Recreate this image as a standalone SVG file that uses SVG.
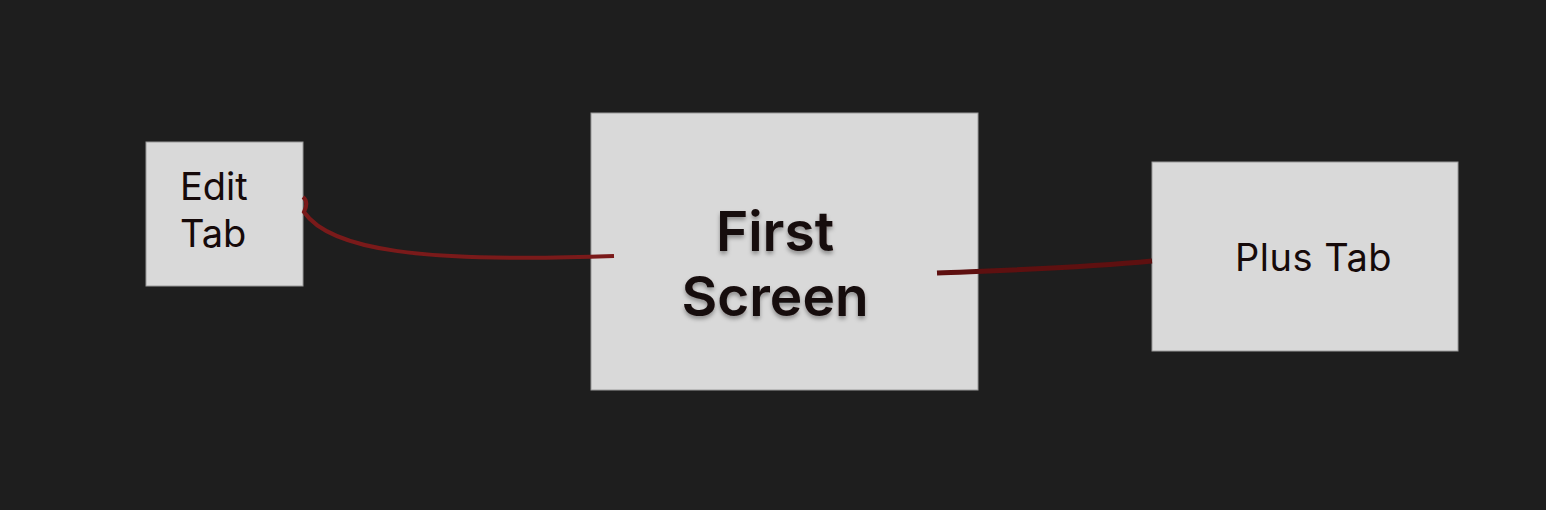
<svg xmlns="http://www.w3.org/2000/svg" width="1546" height="510" viewBox="0 0 1546 510">
<style>
.box{fill:#d9d9d9;stroke:#9a9a9a;stroke-width:1}
.lbl{font-family:Inter,"Liberation Sans",sans-serif;fill:#160a0a}
.conn{fill:none;stroke-linecap:butt}
</style>
<defs>
<filter id="sh" x="-20%" y="-20%" width="140%" height="140%">
<feDropShadow dx="0" dy="3" stdDeviation="2" flood-color="#000" flood-opacity="0.35"/>
</filter>
</defs>
<rect width="1546" height="510" fill="#1e1e1e"/>
<g id="edit-tab">
<rect class="box" x="146" y="142" width="157" height="144"/>
<text class="lbl" font-size="38" x="180" y="200">Edit</text>
<text class="lbl" font-size="38" x="180" y="247">Tab</text>
</g>
<g id="first-screen">
<rect class="box" x="591" y="113" width="387" height="277"/>
<g filter="url(#sh)">
<text class="lbl" font-size="55" font-weight="600" text-anchor="middle" x="775" y="251">First</text>
<text class="lbl" font-size="55" font-weight="600" text-anchor="middle" x="775" y="316">Screen</text>
</g>
</g>
<g id="plus-tab">
<rect class="box" x="1152" y="162" width="306" height="189"/>
<text class="lbl" font-size="38" letter-spacing="0.5" x="1235" y="271">Plus Tab</text>
</g>
<g id="connectors">
<path class="conn" d="M303,197 C308,201 306,208 304,212 C330,250 420,263 614,256" stroke="#7a1a1a" stroke-width="4"/>
<path class="conn" d="M937,273 C1010,270 1080,268 1152,261" stroke="#5e1010" stroke-width="5"/>
</g>
</svg>
